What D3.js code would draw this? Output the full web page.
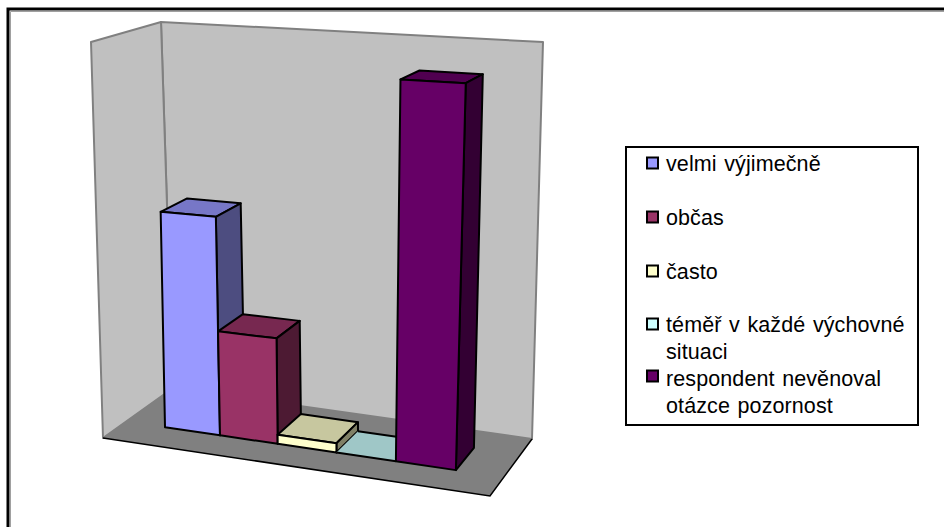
<!DOCTYPE html>
<html>
<head>
<meta charset="utf-8">
<script src="https://cdn.jsdelivr.net/npm/d3@7"></script>
<style>
  html, body { margin: 0; padding: 0; background: #fff; }
  svg { display: block; }
  text { font-family: "Liberation Sans", Arial, sans-serif; font-size: 21.5px; letter-spacing: 0.1px; word-spacing: 1.5px; fill: #000; }
</style>
</head>
<body>
<svg id="chart" width="944" height="527"></svg>
<script>
// Chart data
const categories = ['velmi výjimečně', 'občas', 'často', 'téměř v každé výchovné situaci', 'respondent nevěnoval otázce pozornost'];
const values = [31.3, 14.9, 1.3, 0, 52.5];
const colors = ['#9999ff', '#993366', '#ffffcc', '#ccffff', '#660066'];
const legendLines = [['velmi výjimečně'], ['občas'], ['často'], ['téměř v každé výchovné', 'situaci'], ['respondent nevěnoval', 'otázce pozornost']];
const valueMax = 56.6;

const svg = d3.select('#chart');

// Corners of the box the bars stand in, floor and ceiling
const floorCorners = { fl: [103, 438], fr: [490, 496], bl: [173, 388], br: [532, 439] };
const topCorners = { fl: [91, 42], fr: [504, 62], bl: [161, 22], br: [543, 42] };

// Scales: height inside the box, bar depth, and bar position along the width
const heightScale = d3.scaleLinear().domain([0, valueMax]).range([0, 1]);
const depthFront = 0.33, depthBack = 0.726;
const floorU = d3.scalePow().exponent(1.035).domain([0, categories.length]).range([0.103, 0.873]);
const topU = d3.scalePow().exponent(1.07).domain([0, categories.length]).range([0.107, 0.875]);

const lerp = (a, b, t) => [a[0] + (b[0] - a[0]) * t, a[1] + (b[1] - a[1]) * t];

function project(u, v, h) {
  const onFloor = lerp(lerp(floorCorners.fl, floorCorners.fr, u), lerp(floorCorners.bl, floorCorners.br, u), v);
  const onTop = lerp(lerp(topCorners.fl, topCorners.fr, u), lerp(topCorners.bl, topCorners.br, u), v);
  return lerp(onFloor, onTop, h);
}

// Position of a bar corner given band index, depth and height
function barPoint(i, v, h) {
  return project(floorU(i) + (topU(i) - floorU(i)) * h, v, h);
}

const outline = d3.line().curve(d3.curveLinearClosed);

function poly(parent, pts, fill, stroke, width) {
  return parent.append('path')
    .attr('d', outline(pts))
    .attr('fill', fill)
    .attr('stroke', stroke || 'none')
    .attr('stroke-width', width || 0)
    .attr('stroke-linejoin', 'round');
}

// Frame: only the top and left edges are drawn, each with a grey inner line
const frame = svg.append('g');
frame.append('path').attr('d', 'M10.5,527V11.5H944').attr('fill', 'none').attr('stroke', '#a0a0a0').attr('stroke-width', 1);
frame.append('path').attr('d', 'M8,527V9H944').attr('fill', 'none').attr('stroke', '#000').attr('stroke-width', 3);

// Walls and floor
const walls = svg.append('g');
poly(walls, [floorCorners.bl, floorCorners.br, topCorners.br, topCorners.bl], '#c0c0c0', '#808080', 2);
poly(walls, [floorCorners.fl, floorCorners.bl, topCorners.bl, topCorners.fl], '#c0c0c0', '#808080', 2);
poly(walls, [floorCorners.fl, floorCorners.fr, floorCorners.br, floorCorners.bl], '#808080');
walls.append('path')
  .attr('d', d3.line()([floorCorners.fl, floorCorners.fr, floorCorners.br]))
  .attr('fill', 'none').attr('stroke', '#000').attr('stroke-width', 1.5);

// Bars, drawn from the left so later ones overlap earlier ones
const bars = svg.append('g');
values.forEach((val, i) => {
  const h = heightScale(val);
  const c = d3.color(colors[i]);
  const shade = k => d3.rgb(c.r * k, c.g * k, c.b * k).formatHex();
  const p = barPoint;
  const stroke = '#000';
  // a zero bar is only a flat plate with its long edges outlined
  if (val === 0) {
    poly(bars, [p(i, depthFront, h), p(i + 1, depthFront, h), p(i + 1, depthBack, h), p(i, depthBack, h)], shade(0.78));
    [depthFront, depthBack].forEach(d => {
      bars.append('path')
        .attr('d', d3.line()([p(i, d, h), p(i + 1, d, h)]))
        .attr('stroke', stroke).attr('stroke-width', 2);
    });
    return;
  }
  // top face
  poly(bars, [p(i, depthFront, h), p(i + 1, depthFront, h), p(i + 1, depthBack, h), p(i, depthBack, h)], shade(0.78), stroke, 2);
  // side face
  poly(bars, [p(i + 1, depthFront, 0), p(i + 1, depthBack, 0), p(i + 1, depthBack, h), p(i + 1, depthFront, h)], shade(0.5), stroke, 2);
  // front face
  poly(bars, [p(i, depthFront, 0), p(i + 1, depthFront, 0), p(i + 1, depthFront, h), p(i, depthFront, h)], colors[i], stroke, 2);
});

// Legend
const legend = svg.append('g');
legend.append('rect')
  .attr('x', 626).attr('y', 147)
  .attr('width', 292).attr('height', 278)
  .attr('fill', '#fff').attr('stroke', '#000').attr('stroke-width', 2);

const swatchY = [157, 211, 265, 318, 370];
const textY = [[171], [225], [279], [332, 359], [386, 413]];

legendLines.forEach((lines, i) => {
  legend.append('rect')
    .attr('x', 647).attr('y', swatchY[i] + 0.5)
    .attr('width', 11).attr('height', 11)
    .attr('fill', colors[i]).attr('stroke', '#000').attr('stroke-width', 2);
  lines.forEach((line, j) => {
    legend.append('text')
      .attr('x', 666).attr('y', textY[i][j])
      .text(line);
  });
});
</script>
</body>
</html>
